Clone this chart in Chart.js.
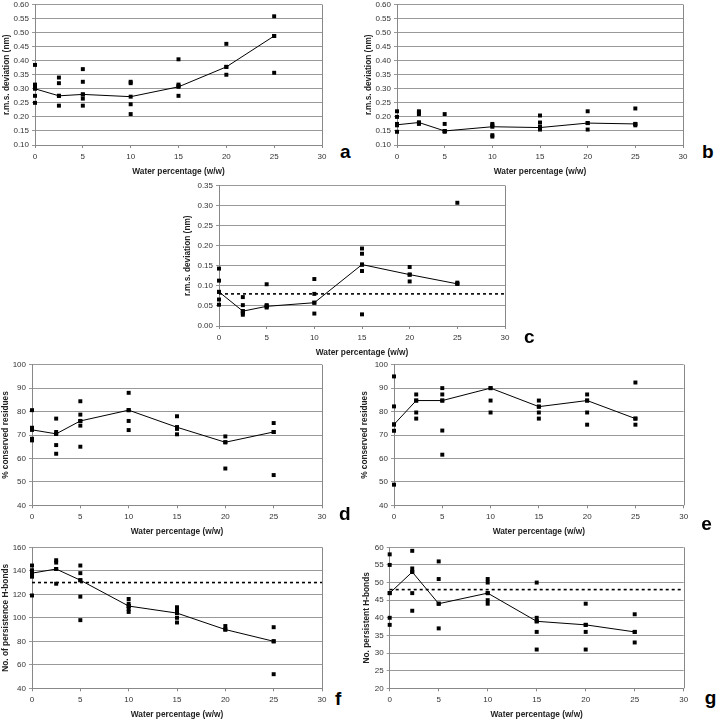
<!DOCTYPE html>
<html><head><meta charset="utf-8">
<script src="https://cdn.jsdelivr.net/npm/chart.js@4"></script>
<style>
html,body{margin:0;padding:0;background:#fff;overflow:hidden;}
#page{position:relative;width:718px;height:720px;background:#fff;}
canvas{position:absolute;}
.lbl{position:absolute;font:bold 19px 'Liberation Sans',Arial,sans-serif;line-height:19px;color:#000;}
</style></head><body><div id="page"></div>
<script>
// ---- data ----
const waterA = [0, 2.5, 5, 10, 15, 20, 25];
const waterB = [0, 2.3, 5, 10, 15, 20, 25];
const xTicks = [0, 5, 10, 15, 20, 25, 30];
const xTitle = 'Water percentage (w/w)';

const aMean = [0.300, 0.275, 0.280, 0.272, 0.307, 0.378, 0.488];
const aRuns = [[0.385, 0.315, 0.31, 0.275, 0.25], [0.34, 0.32, 0.275, 0.24], [0.37, 0.325, 0.28, 0.265, 0.24],
  [0.325, 0.32, 0.245, 0.21], [0.405, 0.315, 0.31, 0.275], [0.46, 0.378, 0.35], [0.558, 0.488, 0.357]];

const bMean = [0.172, 0.180, 0.150, 0.165, 0.162, 0.178, 0.175];
const bRuns = [[0.22, 0.20, 0.175, 0.17, 0.147], [0.22, 0.215, 0.21, 0.18, 0.175], [0.21, 0.175, 0.15, 0.147],
  [0.175, 0.17, 0.135, 0.13], [0.205, 0.18, 0.165, 0.16, 0.155], [0.22, 0.178, 0.155], [0.23, 0.175, 0.17]];

const cMean = [0.085, 0.037, 0.049, 0.058, 0.153, 0.128, 0.105];
const cRuns = [[0.143, 0.113, 0.085, 0.066, 0.053], [0.072, 0.052, 0.037, 0.032, 0.028], [0.104, 0.052, 0.049, 0.046],
  [0.117, 0.08, 0.058, 0.031], [0.193, 0.18, 0.153, 0.137, 0.029], [0.147, 0.128, 0.111], [0.307, 0.108, 0.105]];
const cRef = 0.08;

const dMean = [72.2, 70.5, 76, 80.6, 73.3, 66.9, 71.3];
const dRuns = [[80.6, 73.1, 72.4, 68.4, 67.7], [77, 71.3, 70.5, 65.7, 62], [84.4, 78.7, 76, 74, 65],
  [88, 80.6, 76, 72.1], [78, 73.3, 72.6, 70.3], [69.4, 66.9, 55.7], [75.1, 71.3, 52.9]];

const eMean = [74.5, 84.7, 84.7, 90, 82.1, 84.7, 77];
const eRuns = [[95, 82.2, 74.5, 71.8, 48.8], [87.3, 84.7, 79.6, 77], [90, 87.3, 84.7, 71.9, 61.6],
  [90, 84.7, 79.6], [84.7, 82.1, 79.6, 77], [87.3, 84.7, 79.6, 74.4], [92.4, 77, 74.4]];

const fMean = [138, 141.5, 132, 110, 104, 90, 80];
const fRuns = [[144.5, 140.5, 138, 135, 119], [149, 147, 141.5, 129], [144.5, 138, 132, 118, 98],
  [116, 112, 110, 107.5, 105], [109, 107, 105.5, 104, 100, 96], [93, 90], [92, 80, 52]];
const fRef = 130;

const gMean = [47, 53, 44, 47, 39, 38, 36];
const gRuns = [[58, 55, 47, 40, 38], [59, 54, 53, 47, 42], [56, 51, 44, 37],
  [51, 50, 47, 45, 44], [50, 40, 39, 36, 31], [44, 38, 36, 31], [41, 36, 33]];
const gRef = 48;

// ---- layout ----
const FONT = "'Liberation Sans', Arial, sans-serif";
Chart.defaults.font.family = FONT;
const page = document.getElementById('page');

const frame = {
  id: 'frame',
  beforeDatasetsDraw(chart) {
    const {ctx, chartArea: a} = chart;
    ctx.save();
    ctx.strokeStyle = '#888';
    ctx.lineWidth = 1;
    const x = Math.round(a.right) + 0.5;
    ctx.beginPath(); ctx.moveTo(x, a.top); ctx.lineTo(x, a.bottom); ctx.stroke();
    ctx.restore();
  }
};

function build(p) {
  const pt = 8, pr = 12, xh = 34;
  const left = Math.floor(p.titleX - 6);
  const top = Math.floor(p.T - pt);
  const w = Math.round(p.R - left + pr);
  const h = Math.round(p.B - top + xh);
  const cv = document.createElement('canvas');
  cv.width = w; cv.height = h;
  cv.style.left = left + 'px'; cv.style.top = top + 'px';
  cv.style.width = w + 'px'; cv.style.height = h + 'px';
  page.appendChild(cv);
  const yw = p.L - left;
  const xhh = top + h - p.B;
  const lh = 8.3 * 1.2;
  const pts = [];
  p.runs.forEach((arr, i) => arr.forEach(v => pts.push({x: p.xs[i], y: v})));
  const mean = p.mean.map((v, i) => ({x: p.xs[i], y: v}));
  const datasets = [
    {data: pts, showLine: false, pointStyle: 'rect', pointRadius: 2.8, backgroundColor: '#000', borderColor: '#000', borderWidth: 0, clip: false},
    {data: mean, showLine: true, pointStyle: 'rect', pointRadius: 2.8, backgroundColor: '#000', borderColor: '#000', borderWidth: 1, pointBorderWidth: 0, clip: false}
  ];
  if (p.ref !== undefined) {
    datasets.push({data: [{x: 0, y: p.ref}, {x: 30, y: p.ref}], showLine: true, pointRadius: 0,
      borderColor: '#000', borderWidth: 1.6, borderDash: [3, 3], clip: false});
  }
  new Chart(cv, {
    type: 'scatter',
    data: {datasets},
    plugins: [frame],
    options: {
      responsive: false, animation: false, devicePixelRatio: 1,
      layout: {padding: {top: p.T - top, right: left + w - p.R, left: 0, bottom: 0}},
      plugins: {legend: {display: false}, tooltip: {enabled: false}},
      scales: {
        x: {
          type: 'linear', min: 0, max: 30,
          afterBuildTicks: s => { s.ticks = xTicks.map(v => ({value: v})); },
          afterFit: s => { s.height = xhh; },
          grid: {drawOnChartArea: false, drawTicks: true, tickLength: 3, color: '#888'},
          border: {color: '#888'},
          ticks: {font: {size: 8}, color: '#333', padding: 4, maxRotation: 0},
          title: {display: true, text: xTitle, font: {size: 8.3, weight: 'bold'}, color: '#222', padding: {top: 0, bottom: xhh - 26.5 - lh / 2}}
        },
        y: {
          type: 'linear', min: p.min, max: p.max,
          ticks: {stepSize: p.step, font: {size: 8}, color: '#333', padding: 3,
            callback: v => p.dec ? Number(v).toFixed(p.dec) : String(Math.round(v))},
          afterFit: s => { s.width = yw; },
          grid: {color: '#999', lineWidth: 1, tickLength: 3},
          border: {color: '#888'},
          title: {display: true, text: p.yTitle, font: {size: 8.3, weight: 'bold'}, color: '#222', padding: {top: p.titleX - left - lh / 2, bottom: 0}}
        }
      }
    }
  });
  const d = document.createElement('div');
  d.className = 'lbl';
  d.textContent = p.letter;
  d.style.left = p.lx + 'px';
  d.style.top = (p.lb - 16.1) + 'px';
  page.appendChild(d);
}

const rms = 'r.m.s. deviation (nm)';
build({L: 35, R: 322, T: 4.5, B: 145, titleX: 6.5, min: 0.10, max: 0.60, step: 0.05, dec: 2, yTitle: rms,
  xs: waterA, mean: aMean, runs: aRuns, letter: 'a', lx: 340, lb: 157.7});
build({L: 397, R: 683, T: 4.5, B: 145, titleX: 368.5, min: 0.10, max: 0.60, step: 0.05, dec: 2, yTitle: rms,
  xs: waterB, mean: bMean, runs: bRuns, letter: 'b', lx: 702, lb: 158.3});
build({L: 219, R: 505, T: 185.5, B: 326, titleX: 188, min: 0, max: 0.35, step: 0.05, dec: 2, yTitle: rms,
  xs: waterA, mean: cMean, runs: cRuns, ref: cRef, letter: 'c', lx: 524, lb: 343.3});
build({L: 32, R: 322, T: 364.7, B: 505.3, titleX: 6, min: 40, max: 100, step: 10, dec: 0, yTitle: '% conserved residues',
  xs: waterA, mean: dMean, runs: dRuns, letter: 'd', lx: 339, lb: 520});
build({L: 394, R: 683.7, T: 364.7, B: 505.3, titleX: 364.7, min: 40, max: 100, step: 10, dec: 0, yTitle: '% conserved residues',
  xs: waterB, mean: eMean, runs: eRuns, letter: 'e', lx: 701.3, lb: 530});
build({L: 32, R: 322, T: 547.3, B: 688.3, titleX: 6, min: 40, max: 160, step: 20, dec: 0, yTitle: 'No. of persistence H-bonds',
  xs: waterA, mean: fMean, runs: fRuns, ref: fRef, letter: 'f', lx: 335, lb: 705});
build({L: 389.7, R: 683.7, T: 547.3, B: 688.3, titleX: 366.3, min: 20, max: 60, step: 5, dec: 0, yTitle: 'No. persistent H-bonds',
  xs: waterB, mean: gMean, runs: gRuns, ref: gRef, letter: 'g', lx: 704.7, lb: 704});
</script>
</body></html>
